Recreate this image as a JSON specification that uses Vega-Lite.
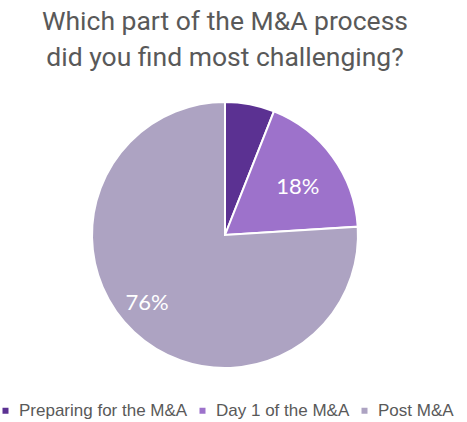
{
  "$schema": "https://vega.github.io/schema/vega-lite/v6.json",
  "width": 450,
  "height": 270,
  "autosize": "none",
  "padding": {"left": 0, "top": 100, "right": 17, "bottom": 52},
  "background": "white",
  "title": {
    "text": ["Which part of the M&A process", "did you find most challenging?"],
    "font": "Roboto",
    "fontSize": 26.5,
    "fontWeight": "normal",
    "color": "#595959",
    "lineHeight": 36,
    "anchor": "middle",
    "offset": 27
  },
  "data": {
    "values": [
      {"part": "Preparing for the M&A", "share": 6, "label": ""},
      {"part": "Day 1 of the M&A", "share": 18, "label": "18%"},
      {"part": "Post M&A", "share": 76, "label": "76%"}
    ]
  },
  "encoding": {
    "theta": {"field": "share", "type": "quantitative", "stack": true},
    "order": {"field": "order", "type": "quantitative"}
  },
  "layer": [
    {
      "mark": {"type": "arc", "outerRadius": 133, "stroke": "white", "strokeWidth": 2},
      "encoding": {
        "color": {
          "field": "part",
          "type": "nominal",
          "sort": ["Preparing for the M&A", "Day 1 of the M&A", "Post M&A"],
          "scale": {
            "domain": ["Preparing for the M&A", "Day 1 of the M&A", "Post M&A"],
            "range": ["#5B3192", "#9D72CB", "#ADA3C2"]
          },
          "legend": {
            "orient": "bottom",
            "direction": "horizontal",
            "title": null,
            "symbolType": "square",
            "symbolSize": 36,
            "symbolStrokeWidth": 0,
            "labelFont": "Liberation Sans",
            "labelFontSize": 17,
            "labelLimit": 400,
            "labelColor": "#595959",
            "columnPadding": 6,
            "labelOffset": 5,
            "offset": 32
          }
        }
      }
    },
    {
      "mark": {"type": "text", "radius": 90, "dy": 5, "font": "Lato", "fontSize": 22, "fill": "white"},
      "encoding": {
        "text": {"condition": {"test": "datum.part == 'Day 1 of the M&A'", "field": "label"}, "value": ""}
      }
    },
    {
      "mark": {"type": "text", "radius": 95, "dx": -13, "dy": -1, "font": "Lato", "fontSize": 22, "fill": "white"},
      "encoding": {
        "text": {"condition": {"test": "datum.part == 'Post M&A'", "field": "label"}, "value": ""}
      }
    }
  ],
  "config": {
    "view": {"stroke": null},
    "legend": {"layout": {"bottom": {"anchor": "middle"}}}
  }
}
